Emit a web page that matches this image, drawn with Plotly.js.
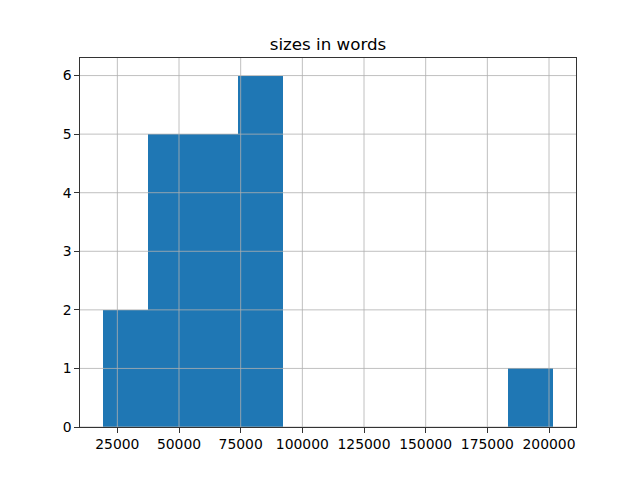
<!DOCTYPE html>
<html>
<head>
<meta charset="utf-8">
<script src="https://cdn.plot.ly/plotly-3.0.1.min.js"></script>
<style>html,body{margin:0;padding:0;background:#fff;}#chart{width:640px;height:480px;}</style>
</head>
<body>
<div id="chart"></div>
<script>
// Histogram bin edges (10 bins) and counts
const binEdges = [19000, 37280, 55560, 73840, 92120, 110400, 128680, 146960, 165240, 183520, 201800];
const counts = [2, 5, 5, 6, 0, 0, 0, 0, 0, 1];
const xTickVals = [25000, 50000, 75000, 100000, 125000, 150000, 175000, 200000];
const xTickText = ["25000", "50000", "75000", "100000", "125000", "150000", "175000", "200000"];
const yTickVals = [0, 1, 2, 3, 4, 5, 6];
const titleText = "sizes in words";

const centers = [], widths = [];
for (let i = 0; i < counts.length; i++) {
  centers.push((binEdges[i] + binEdges[i + 1]) / 2);
  widths.push(binEdges[i + 1] - binEdges[i]);
}
const span = binEdges[binEdges.length - 1] - binEdges[0];
const xRange = [binEdges[0] - 0.05 * span, binEdges[binEdges.length - 1] + 0.05 * span];
const yMax = Math.max(...counts);
const yRange = [0, yMax * 1.05];

const shapes = [];
const gridStyle = {color: '#b0b0b0', width: 0.8};
xTickVals.forEach(v => shapes.push({type: 'line', layer: 'above', xref: 'x', yref: 'paper', x0: v, x1: v, y0: 0, y1: 1, line: gridStyle}));
yTickVals.forEach(v => shapes.push({type: 'line', layer: 'above', xref: 'paper', yref: 'y', x0: 0, x1: 1, y0: v, y1: v, line: gridStyle}));

const font = {family: 'DejaVu Sans, sans-serif', size: 13.9, color: '#000'};

Plotly.newPlot('chart', [{
  type: 'bar',
  x: centers,
  y: counts,
  width: widths,
  marker: {color: '#1f77b4', line: {width: 0}},
  hoverinfo: 'x+y'
}], {
  width: 640, height: 480,
  margin: {l: 80, r: 64, t: 58, b: 53, pad: 0},
  paper_bgcolor: '#fff', plot_bgcolor: '#fff',
  showlegend: false,
  bargap: 0,
  font: font,
  title: {text: titleText, font: {family: 'DejaVu Sans, sans-serif', size: 16.7, color: '#000'},
    xref: 'paper', x: 0.5, xanchor: 'center', yref: 'paper', y: 1, yanchor: 'bottom', pad: {b: 8}},
  xaxis: {range: xRange, tickvals: xTickVals, ticktext: xTickText, showgrid: false, zeroline: false,
    showline: true, mirror: true, linecolor: '#000', linewidth: 0.8,
    ticks: 'outside', ticklen: 4.9, tickwidth: 0.8, tickcolor: '#000', tickfont: font},
  yaxis: {range: yRange, tickvals: yTickVals, showgrid: false, zeroline: false,
    showline: true, mirror: true, linecolor: '#000', linewidth: 0.8,
    ticks: 'outside', ticklen: 4.9, tickwidth: 0.8, tickcolor: '#000', tickfont: font},
  shapes: shapes
}, {displayModeBar: false, staticPlot: true});
</script>
</body>
</html>
